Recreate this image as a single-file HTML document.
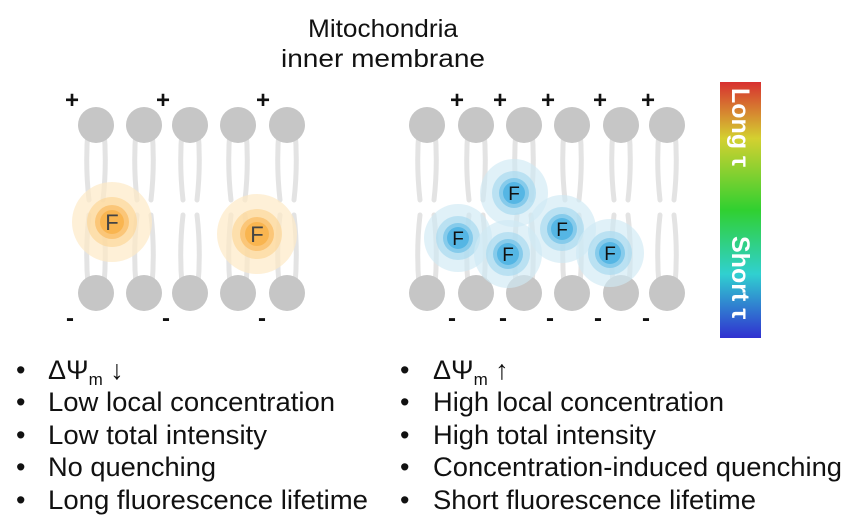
<!DOCTYPE html>
<html><head><meta charset="utf-8"><style>
body{margin:0;background:#fff}
svg{display:block}
text{font-family:"Liberation Sans",Arial,sans-serif}
</style></head><body>
<svg width="859" height="532" viewBox="0 0 859 532" xmlns="http://www.w3.org/2000/svg">
<defs>
<linearGradient id="cb" x1="0" y1="0" x2="0" y2="1">
<stop offset="0" stop-color="#d83030"/>
<stop offset="0.22" stop-color="#d4d030"/>
<stop offset="0.5" stop-color="#30d030"/>
<stop offset="0.75" stop-color="#30d0d0"/>
<stop offset="1" stop-color="#3030d0"/>
</linearGradient>
<g id="lip">
<path d="M-8,130 Q-11,165 -7,200 M8,130 Q11,165 7,200 M-7,215 Q-11,250 -8,285 M7,215 Q11,250 8,285" stroke="#e3e3e3" stroke-width="5" fill="none" stroke-linecap="round"/>
<circle cx="0" cy="125" r="18" fill="#c6c6c6"/>
<circle cx="0" cy="293" r="18" fill="#c6c6c6"/>
</g>
<g id="fo">
<circle r="40" fill="#fde9c6" opacity="0.7"/>
<circle r="25" fill="#fcd79a" opacity="0.7"/>
<circle r="17" fill="#fbc678"/>
<circle r="12" fill="#f9b550"/>
</g>
<g id="fb">
<circle r="34" fill="#cfe9f5" opacity="0.65"/>
<circle r="22" fill="#a9daf0" opacity="0.7"/>
<circle r="15" fill="#86cbeb"/>
<circle r="11" fill="#55b6e4"/>
</g>
</defs>
<text x="383" y="37" font-size="25" text-anchor="middle" fill="#111" textLength="150" lengthAdjust="spacingAndGlyphs">Mitochondria</text>
<text x="383" y="67" font-size="25" text-anchor="middle" fill="#111" textLength="204" lengthAdjust="spacingAndGlyphs">inner membrane</text>

<use href="#lip" x="96"/><use href="#lip" x="144"/><use href="#lip" x="190"/><use href="#lip" x="238"/><use href="#lip" x="287"/>
<use href="#fo" x="112" y="222"/><use href="#fo" x="257" y="234"/>
<text x="112" y="230" font-size="22" text-anchor="middle" fill="#444">F</text>
<text x="257" y="242" font-size="22" text-anchor="middle" fill="#444">F</text>

<use href="#lip" x="427"/><use href="#lip" x="476"/><use href="#lip" x="524"/><use href="#lip" x="572"/><use href="#lip" x="621"/><use href="#lip" x="667"/>
<use href="#fb" x="514" y="193"/><use href="#fb" x="458" y="238"/><use href="#fb" x="508" y="254"/><use href="#fb" x="562" y="229"/><use href="#fb" x="610" y="253"/>
<g font-size="19" text-anchor="middle" fill="#111">
<text x="514" y="200">F</text><text x="458" y="245">F</text><text x="508" y="261">F</text><text x="562" y="236">F</text><text x="610" y="260">F</text>
</g>

<g font-size="24" font-weight="bold" text-anchor="middle" fill="#111">
<text x="72" y="108">+</text><text x="163" y="108">+</text><text x="263" y="108">+</text>
<text x="457" y="108">+</text><text x="500" y="108">+</text><text x="548" y="108">+</text><text x="600" y="108">+</text><text x="648" y="108">+</text>
<text x="70" y="326">-</text><text x="166" y="326">-</text><text x="262" y="326">-</text>
<text x="452" y="326">-</text><text x="503" y="326">-</text><text x="550" y="326">-</text><text x="598" y="326">-</text><text x="646" y="326">-</text>
</g>

<rect x="720" y="82" width="41" height="256" fill="url(#cb)"/>
<text transform="translate(732,88) rotate(90)" font-size="25" font-weight="bold" fill="#fff">Long τ</text>
<text transform="translate(732,236) rotate(90)" font-size="25" font-weight="bold" fill="#fff">Short τ</text>

<g font-size="27" fill="#111">
<text x="16" y="379">•</text><text x="16" y="411">•</text><text x="16" y="444">•</text><text x="16" y="476">•</text><text x="16" y="509">•</text>
<text x="48" y="379">ΔΨ<tspan font-size="17" dy="6">m</tspan><tspan dy="-6"> ↓</tspan></text>
<text x="48" y="411" textLength="287" lengthAdjust="spacingAndGlyphs">Low local concentration</text>
<text x="48" y="444" textLength="219" lengthAdjust="spacingAndGlyphs">Low total intensity</text>
<text x="48" y="476" textLength="168" lengthAdjust="spacingAndGlyphs">No quenching</text>
<text x="48" y="509" textLength="320" lengthAdjust="spacingAndGlyphs">Long fluorescence lifetime</text>
<text x="400" y="379">•</text><text x="400" y="411">•</text><text x="400" y="444">•</text><text x="400" y="476">•</text><text x="400" y="509">•</text>
<text x="433" y="379">ΔΨ<tspan font-size="17" dy="6">m</tspan><tspan dy="-6"> ↑</tspan></text>
<text x="433" y="411" textLength="291" lengthAdjust="spacingAndGlyphs">High local concentration</text>
<text x="433" y="444" textLength="223" lengthAdjust="spacingAndGlyphs">High total intensity</text>
<text x="433" y="476" textLength="409" lengthAdjust="spacingAndGlyphs">Concentration-induced quenching</text>
<text x="433" y="509" textLength="323" lengthAdjust="spacingAndGlyphs">Short fluorescence lifetime</text>
</g>
</svg>
</body></html>
